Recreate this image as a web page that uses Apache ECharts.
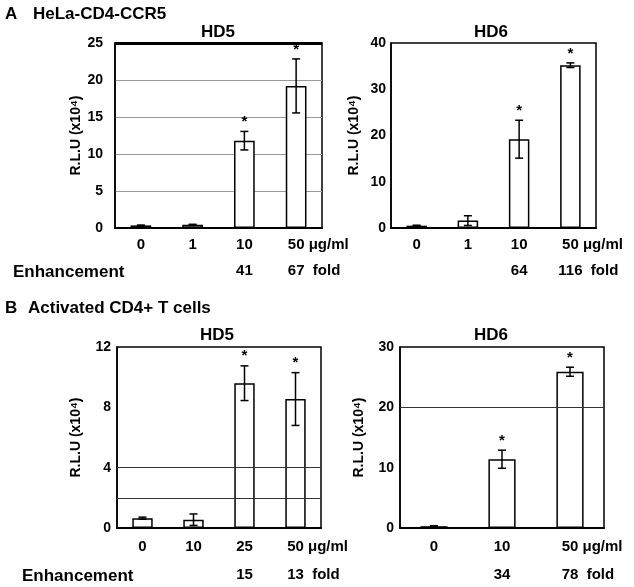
<!DOCTYPE html>
<html>
<head>
<meta charset="utf-8">
<script src="https://cdn.jsdelivr.net/npm/echarts@6/dist/echarts.min.js"></script>
<style>html,body{margin:0;padding:0;background:#fff}#c{width:634px;height:587px}</style>
</head>
<body>
<div id="c"></div>
<script>
// ---- data ----
var catsA = ['0', '1', '10', '50'];
var foldA5 = ['', '', '41', '67'];
var foldA6 = ['', '', '64', '116'];
var meanA5 = [0.35, 0.45, 11.8, 19.2];
var sdA5 = [0.05, 0.05, 1.25, 3.65];
var starA5 = [0, 0, 1, 1];
var meanA6 = [0.5, 1.6, 19.2, 35.2];
var sdA6 = [0.1, 1.05, 4.1, 0.5];
var starA6 = [0, 0, 1, 1];

var catsB5 = ['0', '10', '25', '50'];
var foldB5 = ['', '', '15', '13'];
var meanB5 = [0.65, 0.55, 9.6, 8.55];
var sdB5 = [0.07, 0.38, 1.15, 1.75];
var starB5 = [0, 0, 1, 1];

var catsB6 = ['0', '10', '50'];
var foldB6 = ['', '34', '78'];
var meanB6 = [0.3, 11.4, 25.9];
var sdB6 = [0.08, 1.5, 0.75];
var starB6 = [0, 1, 1];

var yTicksA5 = {max: 25, interval: 5};
var yTicksA6 = {max: 40, interval: 10};
var yTicksB5 = {max: 12, interval: 2, labelEvery: 4};
var yTicksB6 = {max: 30, interval: 10};
var gridLinesB5 = [2, 4];
var gridLinesB6 = [20];

var unitText = ' μg/ml';
var foldText = '  fold';
var yName = 'R.L.U (x10⁴)';

// ---- build ----
var FONT = '"Liberation Sans", Arial, sans-serif';
var chart = echarts.init(document.getElementById('c'), null, {renderer: 'canvas'});

var grids = [], xAxes = [], yAxes = [], series = [];

function panel(gi, g, cats, folds, mean, sd, star, yt, opts) {
  grids.push({left: g.left, top: g.top, width: g.width, height: g.height, show: true,
    borderColor: '#000', borderWidth: 1.5, backgroundColor: 'transparent', containLabel: false});
  var last = cats.length - 1;
  var lh = opts.lineHeight;
  var base = {fontSize: 15, fontWeight: 'bold', color: '#000', fontFamily: FONT, lineHeight: lh, align: 'center'};
  xAxes.push({
    type: 'category', gridIndex: gi, data: cats,
    axisLine: {show: true, lineStyle: {color: '#000', width: 2}},
    axisTick: {show: false},
    axisLabel: {
      interval: 0, margin: opts.margin, fontFamily: FONT,
      formatter: function (v, i) {
        var f = folds[i] ? folds[i] : ' ';
        if (i === last) {
          return '{g|' + unitText + '}{n|' + v + '}{n|' + unitText + '}\n' +
                 '{g|' + foldText + '}{n|' + f + '}{n|' + foldText + '}';
        }
        return '{n|' + v + '}\n{n|' + f + '}';
      },
      rich: {
        n: base,
        g: Object.assign({}, base, {color: 'rgba(0,0,0,0)'})
      }
    }
  });
  yAxes.push({
    type: 'value', gridIndex: gi, min: 0, max: yt.max, interval: yt.interval,
    name: yName, nameLocation: 'middle', nameGap: opts.nameGap, nameRotate: 90,
    nameTextStyle: {fontSize: 14, fontWeight: 'bold', color: '#000', fontFamily: FONT},
    axisLine: {show: true, lineStyle: {color: '#000', width: 1.5}},
    axisTick: {show: false},
    axisLabel: {fontSize: 14, fontWeight: 'bold', color: '#000', fontFamily: FONT, margin: opts.yMargin,
      formatter: function (v) { return (yt.labelEvery && v % yt.labelEvery !== 0) ? '' : String(v); }},
    splitLine: {show: !!opts.split, lineStyle: {color: '#999', width: 1}}
  });
  var ml = (opts.marks || []).map(function (v) { return {yAxis: v}; });
  series.push({
    type: 'line', xAxisIndex: gi, yAxisIndex: gi, data: [], z: 1, silent: true,
    markLine: {silent: true, symbol: 'none', label: {show: false},
      lineStyle: {type: 'solid', color: opts.markColor || '#333', width: opts.markWidth || 1},
      data: ml, animation: false}
  });
  series.push({
    type: 'bar', xAxisIndex: gi, yAxisIndex: gi, data: mean, barWidth: '40%', z: 3,
    itemStyle: {color: '#fff', borderColor: '#000', borderWidth: 1.5}
  });
  series.push({
    type: 'custom', xAxisIndex: gi, yAxisIndex: gi, z: 5,
    data: mean.map(function (m, i) { return [i, m, sd[i], star[i]]; }),
    renderItem: function (params, api) {
      var x = api.value(0), m = api.value(1), e = api.value(2), s = api.value(3);
      var t = api.coord([x, m + e]), b = api.coord([x, Math.max(0, m - e)]);
      var cx = t[0], w = 4;
      var st = {stroke: '#000', lineWidth: 1.5};
      var ch = [
        {type: 'line', shape: {x1: cx, y1: t[1], x2: cx, y2: b[1]}, style: st},
        {type: 'line', shape: {x1: cx - w, y1: t[1], x2: cx + w, y2: t[1]}, style: st},
        {type: 'line', shape: {x1: cx - w, y1: b[1], x2: cx + w, y2: b[1]}, style: st}
      ];
      if (s) ch.push({type: 'text', x: cx, y: t[1] - 2,
        style: {text: '*', fill: '#000', font: 'bold 15px ' + FONT, textAlign: 'center', textVerticalAlign: 'bottom'}});
      return {type: 'group', children: ch};
    }
  });
}

panel(0, {left: 115, top: 43, width: 207, height: 185}, catsA, foldA5, meanA5, sdA5, starA5, yTicksA5,
  {lineHeight: 26, margin: 4, nameGap: 32, yMargin: 12, split: true, marks: [25], markColor: '#000', markWidth: 3});
panel(1, {left: 391, top: 43, width: 205, height: 185}, catsA, foldA6, meanA6, sdA6, starA6, yTicksA6,
  {lineHeight: 26, margin: 4, nameGap: 30, yMargin: 5});
panel(2, {left: 117, top: 347, width: 204, height: 181}, catsB5, foldB5, meanB5, sdB5, starB5, yTicksB5,
  {lineHeight: 28, margin: 5, nameGap: 34, yMargin: 6, marks: gridLinesB5});
panel(3, {left: 400, top: 347, width: 204, height: 181}, catsB6, foldB6, meanB6, sdB6, starB6, yTicksB6,
  {lineHeight: 28, margin: 5, nameGap: 34, yMargin: 6, marks: gridLinesB6});

function txt(x, y, s, size, align) {
  return {type: 'text', x: x, y: y, silent: true,
    style: {text: s, fill: '#000', font: 'bold ' + size + 'px ' + FONT, textAlign: align || 'left', textVerticalAlign: 'middle'}};
}

var graphics = [
  txt(5, 14, 'A', 17), txt(33, 14, 'HeLa-CD4-CCR5', 17),
  txt(5, 308, 'B', 17), txt(28, 308, 'Activated CD4+ T cells', 17),
  txt(218, 32, 'HD5', 17, 'center'), txt(491, 32, 'HD6', 17, 'center'),
  txt(217, 335, 'HD5', 17, 'center'), txt(491, 335, 'HD6', 17, 'center'),
  txt(13, 272, 'Enhancement', 17), txt(22, 576, 'Enhancement', 17)
];

chart.setOption({
  animation: false,
  backgroundColor: '#fff',
  textStyle: {fontFamily: FONT},
  grid: grids, xAxis: xAxes, yAxis: yAxes, series: series,
  graphic: graphics
});
</script>
</body>
</html>
